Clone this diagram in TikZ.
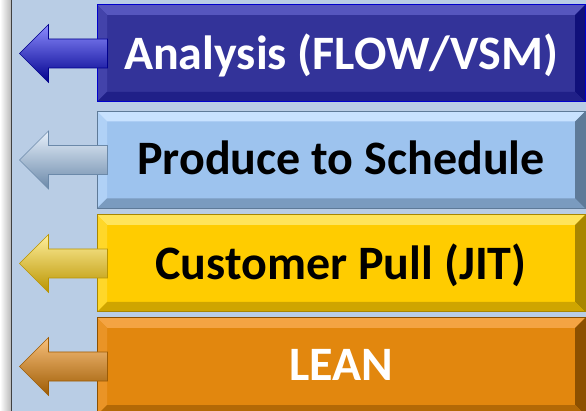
\documentclass[tikz,border=0pt]{standalone}
\usepackage{fontspec}
\setmainfont{Carlito}

\definecolor{paper}{HTML}{B9CDE5}
% box colours: fill, highlight, shadow
\definecolor{navy}{HTML}{333399}
\definecolor{navyhi}{HTML}{5656BE}
\definecolor{navylo}{HTML}{10107A}
\definecolor{sky}{HTML}{9DC3EE}
\definecolor{skyhi}{HTML}{C8E2FF}
\definecolor{skylo}{HTML}{5E7A98}
\definecolor{gold}{HTML}{FFCC00}
\definecolor{goldhi}{HTML}{FFE45A}
\definecolor{goldlo}{HTML}{A88600}
\definecolor{amber}{HTML}{E2870E}
\definecolor{amberhi}{HTML}{F4A443}
\definecolor{amberlo}{HTML}{8C5000}

\begin{document}
\begin{tikzpicture}
        [x=1pt, y=-1pt,
        tier/.style n args={3}{rectangle, fill=#1, draw=#3, line width=1pt,
          minimum width=488pt, minimum height=97pt, inner sep=0pt,
          font=\fontsize{48}{56}\selectfont\bfseries,
          text depth=4pt,
          path picture={
            \coordinate (nw) at (path picture bounding box.north west);
            \coordinate (ne) at (path picture bounding box.north east);
            \coordinate (sw) at (path picture bounding box.south west);
            \coordinate (se) at (path picture bounding box.south east);
            \fill[#2] (nw) -- (ne) -- ([shift={(-10pt,-10pt)}]ne) -- ([shift={(10pt,-10pt)}]nw) -- cycle;
            \fill[#2!45!#1] (nw) -- ([shift={(10pt,-10pt)}]nw) -- ([shift={(10pt,10pt)}]sw) -- (sw) -- cycle;
            \fill[#3] (ne) -- (se) -- ([shift={(-10pt,10pt)}]se) -- ([shift={(-10pt,-10pt)}]ne) -- cycle;
            \fill[#3!55!#1] (sw) -- (se) -- ([shift={(-10pt,10pt)}]se) -- ([shift={(10pt,10pt)}]sw) -- cycle;
          }},
        pointer/.style={draw=#1, line width=0.6pt, line join=miter}]

        \useasboundingbox (0,0) rectangle (586,411);
        \clip (0,0) rectangle (586,411);
        \fill[paper] (0,0) rectangle (586,411);

        % grey strip on the left
        \shade[left color=white, right color=gray!55] (0,0) rectangle (11,411);
        \draw[gray!50!black, line width=1.2pt] (11.5,0) -- (11.5,411);

        % the four tiers
        \node[tier={navy}{navyhi}{navylo}, draw=blue!80!black, text=white] (analysis) at (341,53.5) {Analysis (FLOW/VSM)};
        \node[tier={sky}{skyhi}{skylo}, text=black] (schedule) at (341,160) {Produce to Schedule};
        \node[tier={gold}{goldhi}{goldlo}, text=black] (pull) at (341,263.5) {Customer Pull (JIT)};
        \node[tier={amber}{amberhi}{amberlo}, text=white] (lean) at (341,366.5) {LEAN};

        % arrows pointing out of the tiers
        \foreach \t/\hi/\mid/\lo in {analysis/blue!45!white/blue!88!white/blue!55!black,
                                     schedule/white!75!sky/white!15!sky/skylo!80!sky,
                                     pull/goldhi!60!white/yellow!60!gold/goldlo!80!gold,
                                     lean/amberhi!70!white/amber/amberlo!80!amber}
        {
          \shade[pointer=\lo, top color=\hi, middle color=\mid, bottom color=\lo]
            ([shift={(11pt,14.5pt)}]\t.west) -- ([shift={(-48pt,14.5pt)}]\t.west)
            -- ([shift={(-48pt,29pt)}]\t.west) -- ([xshift=-77pt]\t.west)
            -- ([shift={(-48pt,-29pt)}]\t.west) -- ([shift={(-48pt,-14.5pt)}]\t.west)
            -- ([shift={(11pt,-14.5pt)}]\t.west) -- cycle;
        }

    \end{tikzpicture}
\end{document}
